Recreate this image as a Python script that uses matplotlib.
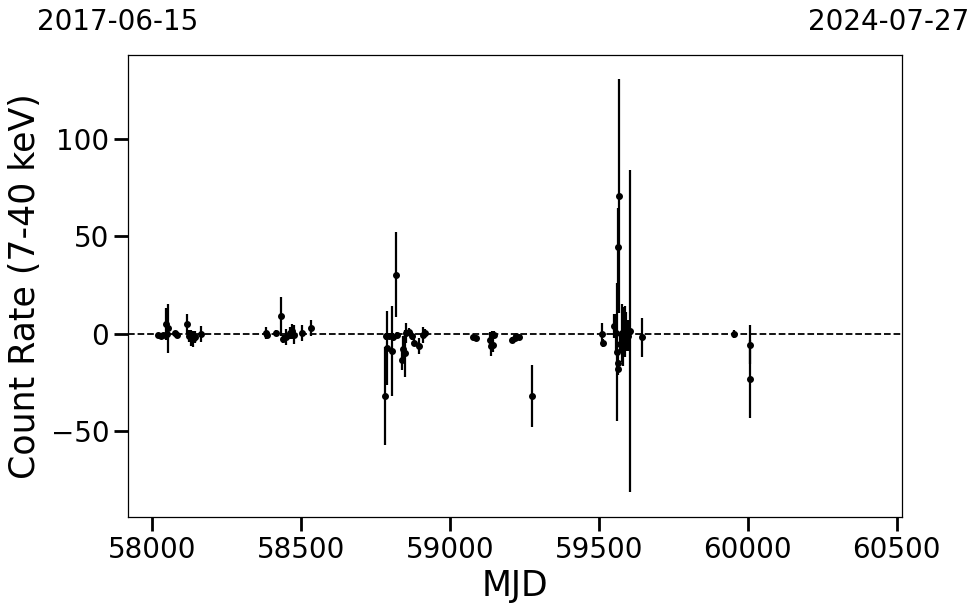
import matplotlib
matplotlib.use("Agg")
import matplotlib.pyplot as plt
import numpy as np

# Observation times (MJD), count rates and 1-sigma errors
mjd = [58021, 58030, 58036, 58046, 58051, 58053, 58076, 58083, 58117, 58125,
       58130, 58138, 58144, 58163,
       58383, 58387, 58415, 58434, 58441, 58448, 58462, 58470, 58475, 58503, 58534,
       58783, 58785, 58788, 58796, 58806, 58808, 58820, 58822, 58839, 58844, 58850,
       58853, 58861, 58872, 58881, 58897, 58911, 58917,
       59078, 59087, 59134, 59137, 59142, 59145, 59149, 59210, 59218, 59223, 59232,
       59275,
       59512, 59514, 59552, 59557, 59562, 59563, 59564, 59566, 59569, 59572, 59577,
       59582, 59587, 59592, 59597, 59605, 59645,
       59955, 60006, 60008]
rate = [-0.5, -1.0, -0.5, 5.0, 0.0, 2.8, 0.3, -0.7, 5.0, -1.0,
        -2.2, -2.7, -1.7, -0.2,
        0.3, -0.5, 0.3, 9.0, -2.7, -1.7, 0.3, 1.2, -0.5, 0.3, 3.0,
        -32.0, -1.4, -7.4, -1.0, -8.7, -1.7, 30.3, -0.5, -13.7, -7.9, -10.0,
        0.3, 0.7, -1.0, -4.5, -6.2, -0.5, 0.3,
        -1.9, -2.2, -3.0, -6.5, -0.5, -5.6, -0.5, -3.0, -2.2, -1.4, -1.9,
        -32.0,
        0.0, -4.8, 4.0, 0.3, -9.5, -15.0, -18.0, 44.5, 70.9, -5.0, 0.3,
        -1.4, 1.2, 1.2, -1.0, 1.6, -1.7,
        -0.2, -23.3, -5.6]
err = [1.0, 1.5, 1.0, 8.0, 2.0, 12.6, 1.0, 1.5, 5.0, 3.0,
       4.0, 4.0, 3.0, 4.0,
       3.0, 1.5, 1.5, 10.0, 2.0, 4.0, 3.0, 4.0, 5.0, 4.0, 4.0,
       25.0, 2.0, 19.0, 1.5, 23.0, 2.0, 21.8, 1.5, 5.0, 7.0, 12.0,
       5.0, 2.0, 2.0, 2.0, 4.0, 4.0, 2.0,
       1.5, 1.5, 4.0, 5.0, 2.0, 4.0, 2.0, 1.5, 1.5, 1.5, 1.5,
       16.0,
       5.5, 2.0, 6.0, 10.0, 35.5, 4.0, 3.0, 20.0, 60.0, 5.0, 15.0,
       15.0, 13.0, 10.0, 8.0, 82.6, 10.0,
       2.0, 20.0, 10.0]

xticks = [58000, 58500, 59000, 59500, 60000, 60500]
yticks = [-50, 0, 50, 100]
start_label = "2017-06-15"
end_label = "2024-07-27"

fig = plt.figure(figsize=(9.8, 6.13), dpi=100)
ax = fig.add_axes([128/980, 1 - 517/613, (902-128)/980, (517-55)/613])

ax.errorbar(mjd, rate, yerr=err, fmt='o', color='black', ms=4,
            elinewidth=1.6, capsize=0, zorder=3)
ax.axhline(0, color='black', ls='--', lw=1.3, zorder=2)

ax.set_xlim(57919, 60518)
ax.set_ylim(-94, 143)
ax.set_xticks(xticks)
ax.set_yticks(yticks)
ax.tick_params(axis='both', which='major', labelsize=20, length=10, width=2)
for s in ax.spines.values():
    s.set_linewidth(0.9)
ax.set_xlabel("MJD", fontsize=25, labelpad=4)
ax.set_ylabel("Count Rate (7-40 keV)", fontsize=25, labelpad=6)

fig.text(118/980, 1 - 22/613, start_label, fontsize=20, ha='center', va='center')
fig.text(889/980, 1 - 22/613, end_label, fontsize=20, ha='center', va='center')

fig.savefig("out.png", dpi=100)
